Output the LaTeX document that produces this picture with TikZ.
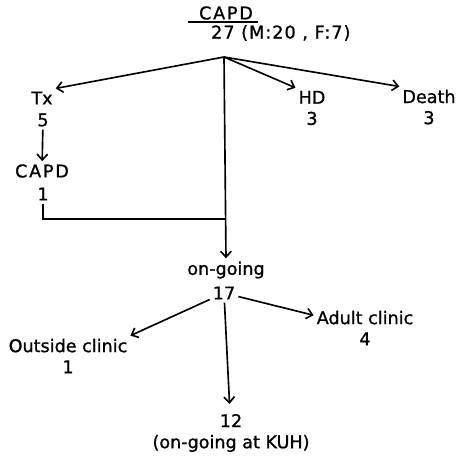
\documentclass[tikz,border=0pt]{standalone}
\usepackage{fontspec}
\setmainfont{DejaVu Sans}[FakeBold=1]
\usetikzlibrary{arrows.meta}

\begin{document}
\begin{tikzpicture}[x=0.03cm, y=-0.03cm, line width=1.4pt,
    >={Straight Barb[length=5pt,width=9pt]},
    every node/.style={font=\fontsize{15}{18}\selectfont, align=center, inner sep=2pt},
    wide/.style={font=\fontsize{15}{18}\selectfont\addfontfeature{LetterSpace=#1}}]
    \useasboundingbox (0,0) rectangle (456,456);

    % 1. CABECERA (CAPD y total)
    \node[wide=10] (capd) at (226,13) {CAPD};
    \node[wide=6, anchor=west] (total) at (208,33) {27 (M:20 , F:7)};
    \draw (188,22) -- (258,22);
    \coordinate (top) at (224,57);

    % 2. RAMA IZQUIERDA (Tx -> CAPD)
    \node (tx) at (42,98) {Tx};
    \node (tx5) at (43,120) {5};
    \node[wide=10] (capdtx) at (42,171) {CAPD};
    \node (capd1) at (43,194) {1};

    % 3. HD Y DEATH
    \node (hd) at (312,108) {HD\\3};
    \node (death) at (429,107) {Death\\3};

    % 4. ON-GOING Y SUS SALIDAS
    \node (ongoing) at (226,270) {on-going};
    \node (n17) at (224,293) {17};
    \node (outside) at (68,356) {Outside clinic\\1};
    \node (adult) at (365,328) {Adult clinic\\4};
    \node (kuh) at (231,433) {12\\(on-going at KUH)};

    % 5. FLECHAS DESDE EL TOTAL
    \draw[->] (top) -- (tx.north east);
    \draw[->] (top) -- (hd.north west);
    \draw[->] (top) -- (death.north west);
    \draw[->] (top) -- (ongoing.north);

    % 6. FLECHAS DE LA RAMA IZQUIERDA
    \draw[->] (tx5) -- (capdtx);
    \coordinate (join) at (226,219);
    \draw (capd1.south) |- (join);

    % 7. FLECHAS DESDE ON-GOING
    \draw[->] (n17) -- (outside.north east);
    \draw[->] (n17) -- (adult);
    \draw[->, shorten >=6pt] (n17) -- (kuh);

\end{tikzpicture}
\end{document}
